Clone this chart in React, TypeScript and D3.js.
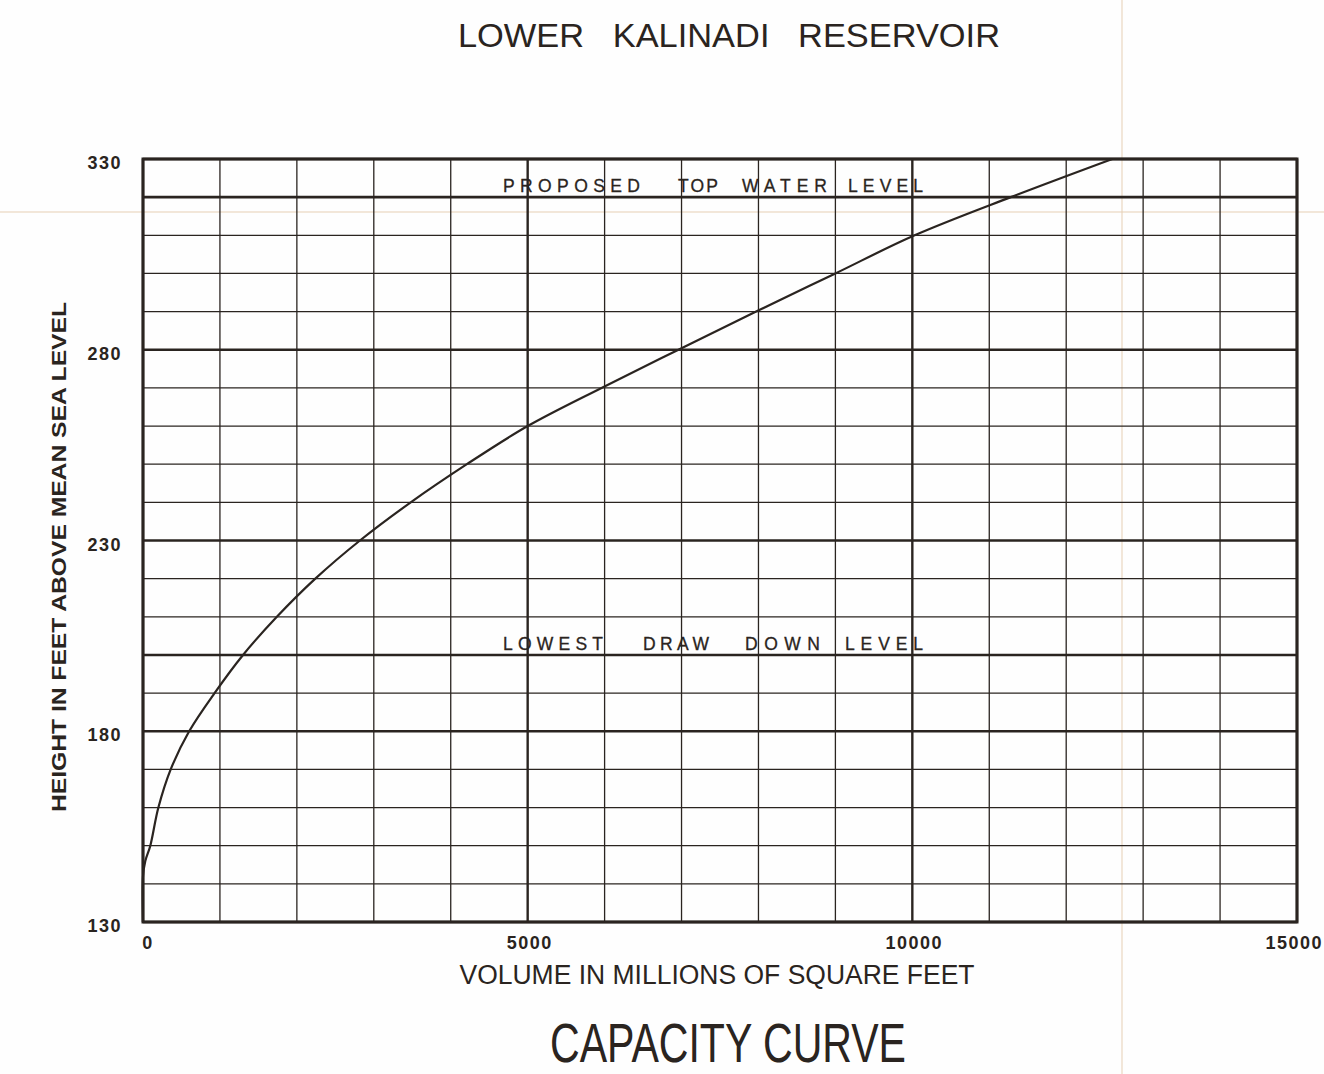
import React from "react";
import * as d3 from "d3";

// capacity curve (volume, height)
const volume = [0, 0, 30, 95, 200, 360, 600, 930, 1300, 1740, 2240, 2820, 3480, 4210, 5000, 5960, 6960, 7970, 9000, 10030, 11280, 12600];
const height = [130, 142, 146, 150, 160, 170, 180, 190, 200, 210, 220, 230, 240, 250, 260, 270, 280, 290, 300, 310, 320, 330];

const xTickLabels = [0, 5000, 10000, 15000];
const yTickLabels = [130, 180, 230, 280, 330];
const levelWords = [
  ["PROPOSED", "TOP", "WATER", "LEVEL"],
  ["LOWEST", "DRAW", "DOWN", "LEVEL"],
];
const levelValues = [320, 200];

const W = 1324;
const H = 1074;
const margin = { top: 159, right: 27, bottom: 152, left: 143 };
const ink = "#2a2420";
const font = "'Liberation Sans', Arial, sans-serif";
// word placement along each level line, in pixels (start, width)
const levelWordBoxes = [
  [[503, 137], [678, 40], [742, 85], [848, 75]],
  [[503, 100], [643, 66], [745, 75], [845, 78]],
];

const App = () => {
  const x = d3
    .scaleLinear()
    .domain([0, 15000])
    .range([margin.left, W - margin.right]);
  const y = d3
    .scaleLinear()
    .domain([130, 330])
    .range([H - margin.bottom, margin.top]);

  const xGrid = d3.range(0, 15001, 1000);
  const yGrid = d3.range(130, 331, 10);

  const points = volume.map((v, i) => [v, height[i]] as [number, number]);
  const line = d3
    .line<[number, number]>()
    .x((d) => x(d[0]))
    .y((d) => y(d[1]))
    .curve(d3.curveCatmullRom.alpha(0.5));

  const isMajorY = (v: number) => (v - 130) % 50 === 0 || levelValues.includes(v);
  const isMajorX = (v: number) => v % 5000 === 0;

  return (
    <svg
      width={W}
      height={H}
      style={{ position: "absolute", left: 0, top: 0, background: "#fefefe" }}
    >
      {/* paper folds */}
      <line x1={0} x2={W} y1={212} y2={212} stroke="#e6cfb4" strokeWidth={1} />
      <line x1={1122} x2={1122} y1={0} y2={H} stroke="#e6cfb4" strokeWidth={1} />

      <text
        x={729}
        y={47}
        textAnchor="middle"
        fontFamily={font}
        fontSize={33}
        fill={ink}
        textLength={542}
        lengthAdjust="spacingAndGlyphs"
        style={{ whiteSpace: "pre" }}
      >
        {"LOWER   KALINADI   RESERVOIR"}
      </text>

      {/* grid */}
      <g stroke={ink}>
        {yGrid.map((v) => (
          <line
            key={"h" + v}
            x1={x(0)}
            x2={x(15000)}
            y1={y(v)}
            y2={y(v)}
            strokeWidth={isMajorY(v) ? 2.6 : 1.3}
          />
        ))}
        {xGrid.map((v) => (
          <line
            key={"v" + v}
            x1={x(v)}
            x2={x(v)}
            y1={y(130)}
            y2={y(330)}
            strokeWidth={isMajorX(v) ? 2.4 : 1.3}
          />
        ))}
        <rect
          x={x(0)}
          y={y(330)}
          width={x(15000) - x(0)}
          height={y(130) - y(330)}
          fill="none"
          strokeWidth={3}
        />
      </g>

      {/* level labels */}
      {levelWords.map((words, i) =>
        words.map((w, j) => (
          <text
            key={i + "-" + j}
            x={levelWordBoxes[i][j][0]}
            y={y(levelValues[i]) - 5}
            fontFamily={font}
            fontSize={17.5}
            fill={ink}
            stroke={ink}
            strokeWidth={0.3}
            textLength={levelWordBoxes[i][j][1]}
            lengthAdjust="spacing"
          >
            {w}
          </text>
        ))
      )}

      <path d={line(points) ?? ""} fill="none" stroke={ink} strokeWidth={2.2} />

      {/* axis ticks */}
      {xTickLabels.map((v, i) => (
        <text
          key={"xt" + v}
          x={i === 0 ? x(v) + 5 : i === xTickLabels.length - 1 ? W - 1 : x(v) + 2}
          y={949}
          textAnchor={i === xTickLabels.length - 1 ? "end" : "middle"}
          fontFamily={font}
          fontWeight="bold"
          fontSize={18}
          letterSpacing={1.5}
          fill={ink}
        >
          {v}
        </text>
      ))}
      {yTickLabels.map((v) => (
        <text
          key={"yt" + v}
          x={122}
          y={y(v) + 10}
          textAnchor="end"
          fontFamily={font}
          fontWeight="bold"
          fontSize={18}
          letterSpacing={1.5}
          fill={ink}
        >
          {v}
        </text>
      ))}

      <text
        x={717}
        y={984}
        textAnchor="middle"
        fontFamily={font}
        fontSize={27}
        fill={ink}
        textLength={515}
        lengthAdjust="spacingAndGlyphs"
      >
        VOLUME IN MILLIONS OF SQUARE FEET
      </text>
      <text
        transform="translate(66,557) rotate(-90)"
        textAnchor="middle"
        fontFamily={font}
        fontWeight="bold"
        fontSize={21}
        fill={ink}
        textLength={510}
        lengthAdjust="spacingAndGlyphs"
      >
        HEIGHT IN FEET ABOVE MEAN SEA LEVEL
      </text>
      <text
        x={728}
        y={1062}
        textAnchor="middle"
        fontFamily={font}
        fontSize={56}
        fill={ink}
        textLength={356}
        lengthAdjust="spacingAndGlyphs"
      >
        CAPACITY CURVE
      </text>
    </svg>
  );
};

export default App;
